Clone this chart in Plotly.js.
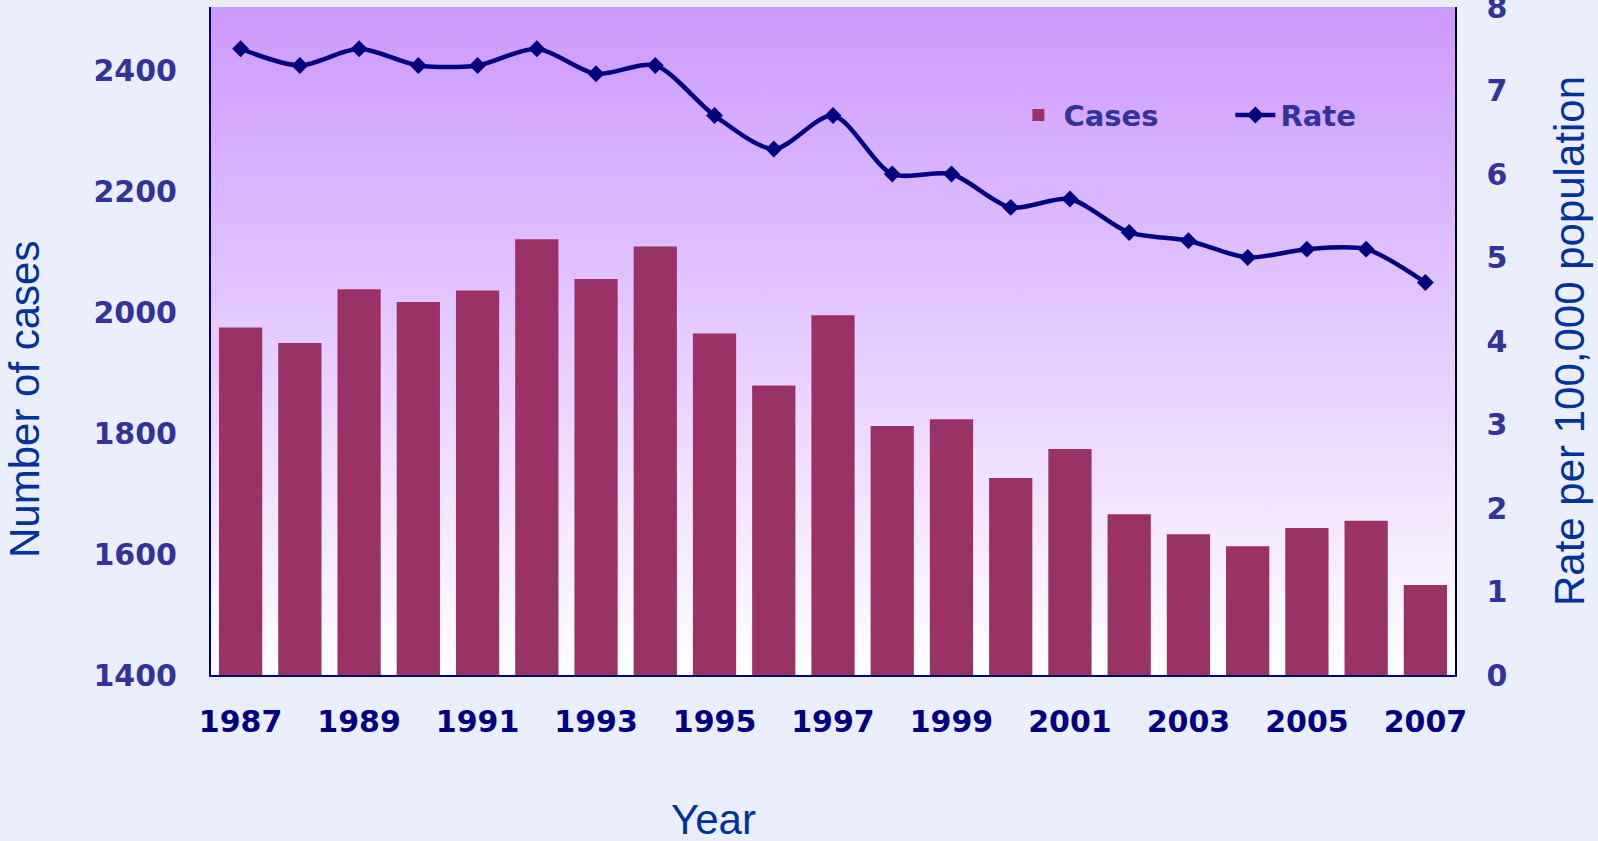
<!DOCTYPE html>
<html>
<head>
<meta charset="utf-8">
<script src="https://cdn.plot.ly/plotly-3.0.1.min.js"></script>
<style>html,body{margin:0;padding:0;background:#EBEEFC;}#chart{width:1598px;height:841px;}</style>
</head>
<body>
<div id="chart"></div>
<script>
const years = [1987,1988,1989,1990,1991,1992,1993,1994,1995,1996,1997,1998,1999,2000,2001,2002,2003,2004,2005,2006,2007];
const cases = [1975,1949,2038,2017,2036,2121,2055,2109,1965,1879,1995,1812,1823,1726,1774,1666,1633,1613,1643,1655,1549];
const rate = [7.5,7.3,7.5,7.3,7.3,7.5,7.2,7.3,6.7,6.3,6.7,6.0,6.0,5.6,5.7,5.3,5.2,5.0,5.1,5.1,4.7];
const xTicks = [1987,1989,1991,1993,1995,1997,1999,2001,2003,2005,2007];
const leftTicks = [1400,1600,1800,2000,2200,2400];
const rightTicks = [0,1,2,3,4,5,6,7,8];

const gradSvg = '<svg xmlns="http://www.w3.org/2000/svg" width="10" height="200" preserveAspectRatio="none"><defs><linearGradient id="g" x1="0" y1="0" x2="0" y2="1"><stop offset="0" stop-color="#CC99FF"/><stop offset="1" stop-color="#FFFFFF"/></linearGradient></defs><rect width="10" height="200" fill="url(#g)"/></svg>';
const gradUri = 'data:image/svg+xml;charset=utf-8,' + encodeURIComponent(gradSvg);

const tickFontY = {family: 'DejaVu Sans, Verdana, sans-serif', size: 30, color: '#333399', weight: 'bold'};
const tickFontX = {family: 'DejaVu Sans, Verdana, sans-serif', size: 30, color: '#000080', weight: 'bold'};
const titleFont = {family: 'Liberation Sans, Arial, sans-serif', size: 42, color: '#003399'};

const data = [
  {type: 'bar', name: 'Cases', x: years, y: cases, marker: {color: '#993366'}, yaxis: 'y'},
  {type: 'scatter', mode: 'lines+markers', name: 'Rate', x: years, y: rate, yaxis: 'y2',
   line: {color: '#000080', width: 4.5, shape: 'spline', smoothing: 0.8},
   marker: {symbol: 'diamond', size: 13, color: '#000080'}}
];

const layout = {
  width: 1598, height: 841,
  paper_bgcolor: '#EBEEFC',
  plot_bgcolor: 'rgba(0,0,0,0)',
  margin: {l: 211, r: 143, t: 7, b: 166},
  bargap: 0.27,
  showlegend: true,
  legend: {orientation: 'h', x: 0.645, y: 0.838, xanchor: 'left', yanchor: 'middle',
           bgcolor: 'rgba(0,0,0,0)', font: {family: 'DejaVu Sans, Verdana, sans-serif', size: 29, color: '#333399', weight: 'bold'},
           entrywidth: 162, itemwidth: 40, traceorder: 'normal'},
  xaxis: {range: [1986.5, 2007.5], tickvals: xTicks, ticktext: xTicks.map(String),
          tickfont: tickFontX, showgrid: false, zeroline: false,
          showline: true, linecolor: '#000080', linewidth: 2, ticks: '', ticklabelstandoff: 19},
  yaxis: {range: [1400, 2505], tickvals: leftTicks, tickfont: tickFontY, showgrid: false, zeroline: false,
          showline: true, linecolor: '#000080', linewidth: 2, ticks: '', ticklabelstandoff: 26},
  yaxis2: {range: [0, 8.0001], tickvals: rightTicks, overlaying: 'y', side: 'right', tickfont: tickFontY,
           showgrid: false, zeroline: false, showline: true, linecolor: '#000000', linewidth: 1.5,
           ticks: '', ticklabelstandoff: 24, ticklabeloverflow: 'allow',
           title: {text: 'Rate per 100,000 population', font: titleFont, standoff: 48}},
  annotations: [
    {text: 'Year', xref: 'paper', yref: 'paper', x: (713-211)/1244, y: (675-819)/668,
     xanchor: 'center', yanchor: 'middle', showarrow: false, font: titleFont},
    {text: 'Number of cases', xref: 'paper', yref: 'paper', x: (25-211)/1244, y: (675-400)/668,
     xanchor: 'center', yanchor: 'middle', textangle: -90, showarrow: false, font: titleFont}
  ],
  images: [{source: gradUri, xref: 'paper', yref: 'paper', x: 0, y: 1, sizex: 1, sizey: 1,
            xanchor: 'left', yanchor: 'top', sizing: 'stretch', layer: 'below'}]
};

Plotly.newPlot('chart', data, layout, {displayModeBar: false, staticPlot: true});
</script>
</body>
</html>
